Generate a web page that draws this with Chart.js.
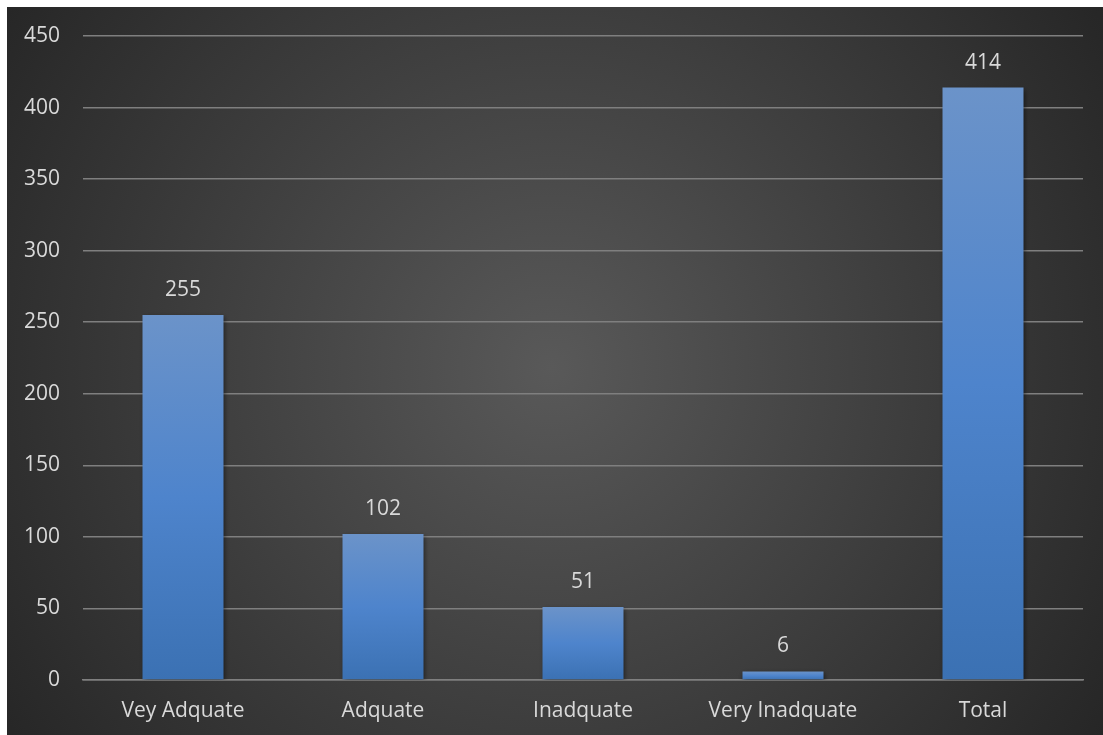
<!DOCTYPE html>
<html lang="en">
<head>
    <meta charset="UTF-8">
    <title>Adequacy chart</title>
    <style>
        html, body { margin: 0; padding: 0; background: #fff; overflow: hidden; }
        #wrap { position: absolute; left: 0; top: 0; width: 1103px; height: 735px; }
        canvas { display: block; }
    </style>
</head>
<body>
    <div id="wrap"><canvas id="barChart"></canvas></div>
    <script src="https://cdn.jsdelivr.net/npm/chart.js@4.4.0/dist/chart.umd.min.js"></script>
    <script>
        const categories = ['Vey Adquate', 'Adquate', 'Inadquate', 'Very Inadquate', 'Total']
        const counts = [255, 102, 51, 6, 414]
        const yTicks = [0, 50, 100, 150, 200, 250, 300, 350, 400, 450]

        const textColor = '#d9d9d9'
        const fontFamily = '"Open Sans", "Noto Sans", sans-serif'

        // dark radial panel behind the chart, inset by the white frame
        const backdrop = {
            id: 'backdrop',
            beforeDraw(chart) {
                const { ctx, width, height } = chart
                ctx.save()
                ctx.fillStyle = '#ffffff'
                ctx.fillRect(0, 0, width, height)
                const cx = width / 2, cy = height / 2
                const g = ctx.createRadialGradient(cx, cy, 0, cx, cy, Math.hypot(cx, cy))
                g.addColorStop(0, '#595959')
                g.addColorStop(1, '#262626')
                ctx.fillStyle = g
                ctx.fillRect(7, 7, width - 7, height - 7)
                ctx.restore()
            }
        }

        const barShadow = {
            id: 'barShadow',
            beforeDatasetsDraw(chart) {
                const ctx = chart.ctx
                ctx.save()
                ctx.shadowColor = 'rgba(0,0,0,0.55)'
                ctx.shadowBlur = 5
                ctx.shadowOffsetY = 2
                ctx.shadowOffsetX = 1
            },
            afterDatasetsDraw(chart) {
                chart.ctx.restore()
            }
        }

        const valueLabels = {
            id: 'valueLabels',
            afterDatasetsDraw(chart) {
                const ctx = chart.ctx
                const meta = chart.getDatasetMeta(0)
                ctx.save()
                ctx.fillStyle = textColor
                ctx.font = '21px ' + fontFamily
                ctx.textAlign = 'center'
                ctx.textBaseline = 'middle'
                meta.data.forEach((bar, i) => {
                    ctx.fillText(String(counts[i]), bar.x, bar.y - 25)
                })
                ctx.restore()
            }
        }

        const barFill = (context) => {
            const chart = context.chart
            const yScale = chart.scales.y
            if (!yScale || !chart.chartArea) return '#4a7cc0'
            const top = yScale.getPixelForValue(context.raw)
            const base = yScale.getPixelForValue(0)
            const g = chart.ctx.createLinearGradient(0, top, 0, base)
            g.addColorStop(0, '#6b93c9')
            g.addColorStop(0.5, '#4e84cc')
            g.addColorStop(1, '#3b71b3')
            return g
        }

        new Chart(document.getElementById('barChart').getContext('2d'), {
            type: 'bar',
            data: {
                labels: categories,
                datasets: [{
                    label: 'Count',
                    data: counts,
                    backgroundColor: barFill,
                    borderWidth: 0,
                    barPercentage: 0.405,
                    categoryPercentage: 1
                }]
            },
            options: {
                responsive: true,
                maintainAspectRatio: false,
                animation: false,
                layout: { padding: { left: 7, top: 36, right: 20, bottom: 0 } },
                plugins: {
                    legend: { display: false },
                    tooltip: { enabled: false }
                },
                scales: {
                    x: {
                        grid: { display: false },
                        border: { color: '#7f7f7f', width: 1.5 },
                        ticks: { color: textColor, font: { family: fontFamily, size: 21 }, padding: 10 },
                        afterFit(scale) { scale.height = 55 }
                    },
                    y: {
                        min: 0,
                        max: 450,
                        afterBuildTicks(scale) { scale.ticks = yTicks.map(v => ({ value: v })) },
                        grid: { color: '#7f7f7f', lineWidth: 1.5, drawTicks: false },
                        border: { display: false },
                        ticks: { color: textColor, font: { family: fontFamily, size: 21 }, padding: 23 },
                        afterFit(scale) { scale.width = 76 }
                    }
                }
            },
            plugins: [backdrop, barShadow, valueLabels]
        })
    </script>
</body>
</html>
